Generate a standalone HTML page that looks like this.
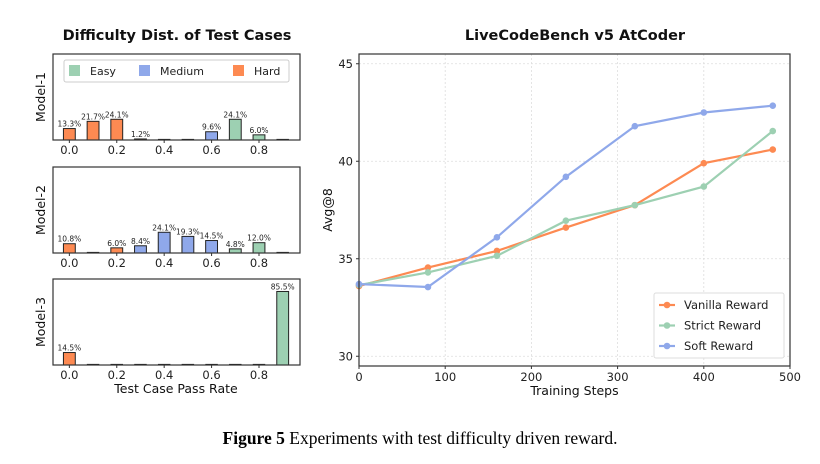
<!DOCTYPE html>
<html><head><meta charset="utf-8">
<style>
body{margin:0;background:#fff;width:820px;height:464px;overflow:hidden;font-family:"DejaVu Sans","Liberation Sans",sans-serif;}
svg{display:block}
</style></head>
<body>
<svg id="fig" width="820" height="464">
<text x="177" y="40" text-anchor="middle" font-size="14.5" font-weight="bold" fill="#111">Difficulty Dist. of Test Cases</text>
<text x="575" y="40" text-anchor="middle" font-size="14.5" font-weight="bold" fill="#111">LiveCodeBench v5 AtCoder</text>
<text x="420" y="444" text-anchor="middle" font-family="Liberation Serif,serif" font-size="17.5" fill="#000"><tspan font-weight="bold">Figure 5</tspan>  Experiments with test difficulty driven reward.</text>
<g id="left"></g>
<g id="right"></g>
</svg>
<script>
const NS="http://www.w3.org/2000/svg";
const binCenters=[0,0.1,0.2,0.3,0.4,0.5,0.6,0.7,0.8,0.9];
const model1Values=[13.3,21.7,24.1,1.2,0,0,9.6,24.1,6.0,0];
const model1Classes=["H","H","H","H","","","M","E","E",""];
const model2Values=[10.8,0,6.0,8.4,24.1,19.3,14.5,4.8,12.0,0];
const model2Classes=["H","","H","M","M","M","M","E","E",""];
const model3Values=[14.5,0,0,0,0,0,0,0,0,85.5];
const model3Classes=["H","","","","","","","","","E"];
const modelNames=["Model-1","Model-2","Model-3"];
const xTicksLeft=[0.0,0.2,0.4,0.6,0.8];

const steps=[0,80,160,240,320,400,480];
const vanilla=[33.6,34.55,35.4,36.6,37.75,39.9,40.6];
const strict=[33.65,34.3,35.15,36.95,37.75,38.7,41.55];
const soft=[33.7,33.55,36.1,39.2,41.8,42.5,42.85];
const xTicksRight=[0,100,200,300,400,500];
const yTicksRight=[30,35,40,45];
const seriesNames=["Vanilla Reward","Strict Reward","Soft Reward"];

const COL={E:"#9dd0b2",M:"#8fa8ea",H:"#fd8a52"};
function mk(tag,attrs,parent){const e=document.createElementNS(NS,tag);for(const k in attrs)e.setAttribute(k,attrs[k]);parent.appendChild(e);return e;}

// LEFT
const L=document.getElementById('left');
const lx0=53,lx1=300,xmin=-0.069,xmax=0.973;
const sxL=v=>lx0+(v-xmin)/(xmax-xmin)*(lx1-lx0);
const panels=[[54,140,model1Values,model1Classes],[167,253,model2Values,model2Classes],[279,365,model3Values,model3Classes]];
panels.forEach((p,pi)=>{
  const [top,bot,vals,cls]=p;
  const g=mk('g',{},L);
  
  
  const sy=v=>bot-v/100*(bot-top);
  vals.forEach((v,i)=>{
    const w=0.05;
    const x=sxL(binCenters[i]-w/2), x2=sxL(binCenters[i]+w/2);
    const h=Math.max(bot-sy(v),0.8);
    const r=mk('rect',{x:x,y:bot-h,width:x2-x,height:h,fill:cls[i]?COL[cls[i]]:"#333",stroke:"#222","stroke-width":v>0?1:0.6},g);
    
    
    if(v>0){
      const t=mk('text',{x:(x+x2)/2,y:bot-h-2,"text-anchor":"middle","font-size":"7.5",fill:"#222"},g);
      t.textContent=v.toFixed(1)+"%";
      
      
    }
  });
  mk('rect',{x:lx0,y:top,width:lx1-lx0,height:bot-top,fill:"none",stroke:"#333","stroke-width":1.2},g);
  xTicksLeft.forEach(t=>{
    const x=sxL(t);
    mk('line',{x1:x,x2:x,y1:bot,y2:bot+3,stroke:"#333"},g);
    const tx=mk('text',{x:x,y:bot+14,"text-anchor":"middle","font-size":"11.5",fill:"#222"},g);
    tx.textContent=t.toFixed(1);
    
    
  });
  const yl=mk('text',{x:0,y:0,transform:`translate(45,${(top+bot)/2}) rotate(-90)`,"text-anchor":"middle","font-size":"12.5",fill:"#111"},g);
  yl.textContent=modelNames[pi];
  
  
});
const xtl=mk('text',{x:176,y:393,"text-anchor":"middle","font-size":"12.5",fill:"#111"},L);
xtl.textContent="Test Case Pass Rate";


const lg=mk('g',{},L);


mk('rect',{x:64,y:60,width:225,height:22,rx:2,fill:"#fff",stroke:"#ccc"},lg);
[["Easy","E",69],["Medium","M",139],["Hard","H",233]].forEach(d=>{
  mk('rect',{x:d[2],y:65,width:11,height:11,fill:COL[d[1]]},lg);
  const t=mk('text',{x:d[2]+21,y:75,"font-size":"11",fill:"#222"},lg);
  t.textContent=d[0];
  
  
});

// RIGHT
const R=document.getElementById('right');
const rx0=359,rx1=790,ry0=54,ry1=366,ymin=29.5,ymax=45.5;
const sx=v=>rx0+v/500*(rx1-rx0);
const sy=v=>ry1-(v-ymin)/(ymax-ymin)*(ry1-ry0);
xTicksRight.forEach(t=>{
  mk('line',{x1:sx(t),x2:sx(t),y1:ry0,y2:ry1,stroke:"#ddd","stroke-dasharray":"2,2","stroke-width":0.8},R);
  mk('line',{x1:sx(t),x2:sx(t),y1:ry1,y2:ry1+3,stroke:"#333"},R);
  const tx=mk('text',{x:sx(t),y:ry1+15,"text-anchor":"middle","font-size":"11.5",fill:"#222"},R);
  tx.textContent=t;
  
  
});
yTicksRight.forEach(t=>{
  mk('line',{x1:rx0,x2:rx1,y1:sy(t),y2:sy(t),stroke:"#ddd","stroke-dasharray":"2,2","stroke-width":0.8},R);
  mk('line',{x1:rx0-3,x2:rx0,y1:sy(t),y2:sy(t),stroke:"#333"},R);
  const tx=mk('text',{x:rx0-6,y:sy(t)+4,"text-anchor":"end","font-size":"11.5",fill:"#222"},R);
  tx.textContent=t;
  
  
});
[[vanilla,COL.H,"vanilla"],[strict,COL.E,"strict"],[soft,COL.M,"soft"]].forEach(s=>{
  const pts=s[0].map((v,i)=>sx(steps[i])+","+sy(v)).join(" ");
  const pl=mk('polyline',{points:pts,fill:"none",stroke:s[1],"stroke-width":2.2},R);
  
  
  s[0].forEach((v,i)=>{
    const c=mk('circle',{cx:sx(steps[i]),cy:sy(v),r:3.3,fill:s[1]},R);
    
    
  });
});
mk('rect',{x:rx0,y:ry0,width:rx1-rx0,height:ry1-ry0,fill:"none",stroke:"#333","stroke-width":1.2},R);
const yt=mk('text',{x:0,y:0,transform:`translate(332,${(ry0+ry1)/2}) rotate(-90)`,"text-anchor":"middle","font-size":"12.5",fill:"#111"},R);
yt.textContent="Avg@8";


const xt=mk('text',{x:(rx0+rx1)/2,y:395,"text-anchor":"middle","font-size":"12.5",fill:"#111"},R);
xt.textContent="Training Steps";


const rg=mk('g',{},R);


mk('rect',{x:654,y:293,width:130,height:65,rx:2,fill:"#fff",stroke:"#ddd"},rg);
[COL.H,COL.E,COL.M].forEach((c,i)=>{
  const y=305+i*20.5;
  mk('line',{x1:659,x2:675,y1:y,y2:y,stroke:c,"stroke-width":2.2},rg);
  mk('circle',{cx:667,cy:y,r:3.3,fill:c},rg);
  const t=mk('text',{x:684,y:y+4,"font-size":"11.5",fill:"#222"},rg);
  t.textContent=seriesNames[i];
  
  
});
</script>
</body></html>
